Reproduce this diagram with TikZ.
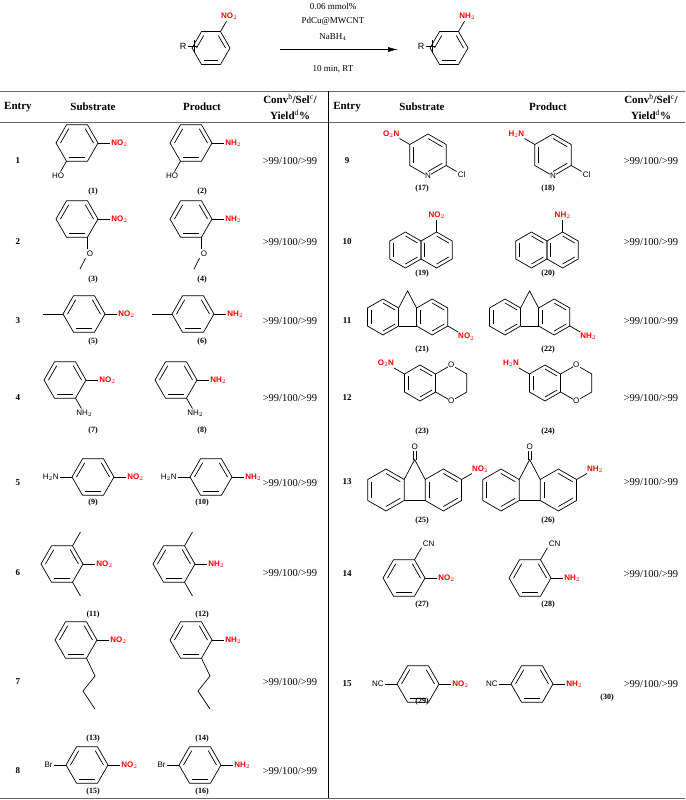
\documentclass[tikz,border=0pt]{standalone}
\usepackage{fontspec}
\setmainfont{Liberation Serif}
\setsansfont{Liberation Sans}
\usepackage{tikz}
\usetikzlibrary{calc,arrows.meta}

\def\rr{21}
\def\ri{16.5}
% ring: x y rotation
\newcommand{\ring}[3]{%
  \draw (#1,#2) +(#3+30:\rr) -- +(#3+90:\rr) -- +(#3+150:\rr) -- +(#3+210:\rr) -- +(#3+270:\rr) -- +(#3+330:\rr) -- cycle;
  \foreach \a in {30,150,270} {\draw (#1,#2) +(#3+\a:\ri) -- +(#3+\a+60:\ri);}}
\newcommand{\cyc}[2]{%
  \draw (#1,#2) +(30:\rr) -- +(90:\rr) -- +(150:\rr) -- +(210:\rr) -- +(270:\rr) -- +(330:\rr) -- cycle;}
% substituent: x y angle text style
\newcommand{\sub}[5]{%
  \pgfmathtruncatemacro\an{180-#3}%
  \draw (#1,#2) +(#3:\rr) -- +(#3:\rr+12) node[#5,anchor=\an] {#4};}
% fluorene skeleton: left ring x, y
\newcommand{\fluor}[2]{%
  \ring{#1}{#2}{0}\ring{#1+2.732*\rr}{#2}{0}
  \draw ($(#1,#2)+(-30:\rr)$) -- (#1+1.366*\rr,#2-1.45*\rr) -- ($(#1+2.732*\rr,#2)+(210:\rr)$);
  \draw ($(#1,#2)+(30:\rr)$) -- ($(#1+2.732*\rr,#2)+(150:\rr)$);}

\begin{document}
\begin{tikzpicture}[x=1pt,y=-1pt,line width=0.7pt,
    grp/.style={font=\sffamily\footnotesize,inner sep=1pt},
    nit/.style={grp,red,font=\sffamily\bfseries\footnotesize},
    cpd/.style={font=\bfseries\footnotesize},
    entry/.style={font=\bfseries\small},
    head/.style={font=\bfseries\fontsize{11}{12}\selectfont},
    conv/.style={font=\fontsize{10.5}{12}\selectfont}]
  \useasboundingbox (0,0) rectangle (685,800);

  % reaction scheme
  \begin{scope}
    \def\rr{19}\def\ri{14.5}
    \ring{211}{48}{30}
    \sub{211}{48}{-60}{NO$_2$}{nit}
    \node[grp,font=\sffamily\small] (R1) at (183,46) {R};
    \draw (R1.east) -- (198,46) (194,40) -- (194,53);
    \ring{449}{48}{30}
    \sub{449}{48}{-60}{NH$_2$}{nit}
    \node[grp,font=\sffamily\small] (R2) at (421,46) {R};
    \draw (R2.east) -- (436,46) (432,40) -- (432,53);
  \end{scope}
  \coordinate (a1) at (280,49.5);
  \coordinate (a2) at (398,49.5);
  \draw[-{Latex[length=10pt,width=5pt]}] (a1) -- (a2);
  \node[font=\small] at (333,6) {0.06 mmol\%};
  \node[font=\small] at (333,21) {PdCu@MWCNT};
  \node[font=\small] at (333,37) {NaBH$_4$};
  \node[font=\small] at (333,69) {10 min, RT};

  % table frame
  \draw[gray!80!black] (0,91) -- (685,91);
  \draw[gray!80!black] (0,122) -- (685,122);
  \draw (328,91) -- (328,798);
  \draw[gray!80!black] (0,798) -- (685,798);
  \foreach \xe/\xs/\xp/\xc in {18/93/202/290, 347/422/548/651} {
    \node[head] at (\xe,107) {Entry};
    \node[head] at (\xs,107) {Substrate};
    \node[head] at (\xp,107) {Product};
    \node[head] at (\xc,99) {Conv$^{\mathrm{b}}$/Sel$^{\mathrm{c}}$/};
    \node[head] at (\xc,115) {Yield$^{\mathrm{d}}$\%};
  }

  % entries and yields
  \foreach \n/\y in {1/161, 2/242, 3/321, 4/398, 5/483, 6/573, 7/682, 8/771} {
    \node[entry] at (18,\y) {\n};
    \node[conv] at (290,\y) {>99/100/>99};
  }
  \foreach \n/\y in {9/161, 10/242, 11/321, 12/398, 13/482, 14/574, 15/684} {
    \node[entry] at (347,\y) {\n};
    \node[conv] at (651,\y) {>99/100/>99};
  }

  % left column molecules
  \foreach \x/\g/\n in {77/NO$_2$/1, 191/NH$_2$/2} {
    \ring{\x}{143}{30}
    \sub{\x}{143}{0}{\g}{nit}
    \sub{\x}{143}{120}{HO}{grp}
  }
  \foreach \x/\g/\n in {77/NO$_2$/3, 191/NH$_2$/4} {
    \ring{\x}{219}{30}
    \sub{\x}{219}{0}{\g}{nit}
    \draw (\x,219) +(60:\rr) -- (\x+10.5,249);
    \node[grp] (o\n) at (\x+13,254) {O};
    \draw (o\n.south west) -- (\x+3,269);
  }
  \foreach \x/\g/\n in {84/NO$_2$/5, 193/NH$_2$/6} {
    \ring{\x}{314}{30}
    \sub{\x}{314}{0}{\g}{nit}
    \draw (\x,314) +(180:\rr) -- +(180:\rr+20);
  }
  \foreach \x/\g/\n in {65/NO$_2$/7, 176/NH$_2$/8} {
    \ring{\x}{380}{30}
    \sub{\x}{380}{0}{\g}{nit}
    \sub{\x}{380}{60}{NH$_2$}{grp}
  }
  \foreach \x/\g/\n in {93/NO$_2$/9, 211/NH$_2$/10} {
    \ring{\x}{477}{30}
    \sub{\x}{477}{0}{\g}{nit}
    \sub{\x}{477}{180}{H$_2$N}{grp}
  }
  \foreach \x/\g/\n in {62/NO$_2$/11, 174/NH$_2$/12} {
    \ring{\x}{564}{30}
    \sub{\x}{564}{0}{\g}{nit}
    \draw (\x,564) +(-60:\rr) -- +(-60:\rr+16);
    \draw (\x,564) +(60:\rr) -- +(60:\rr+16);
  }
  \foreach \x/\g/\n in {76/NO$_2$/13, 191/NH$_2$/14} {
    \ring{\x}{640}{30}
    \sub{\x}{640}{0}{\g}{nit}
    \draw (\x,640) +(60:\rr) -- (\x+19,676) -- (\x+7,691) -- (\x+19,709);
  }
  \foreach \x/\g/\n in {87/NO$_2$/15, 200/NH$_2$/16} {
    \ring{\x}{765}{30}
    \sub{\x}{765}{0}{\g}{nit}
    \sub{\x}{765}{180}{Br}{grp}
  }
  \foreach \x/\a/\b/\c/\d/\e/\f/\g/\h in {93/1/3/5/7/9/11/13/15, 202/2/4/6/8/10/12/14/16} {
    \node[cpd] at (\x,192) {(\a)};
    \node[cpd] at (\x,280) {(\b)};
    \node[cpd] at (\x,342) {(\c)};
    \node[cpd] at (\x,431) {(\d)};
    \node[cpd] at (\x,503) {(\e)};
    \node[cpd] at (\x,615) {(\f)};
    \node[cpd] at (\x,739) {(\g)};
    \node[cpd] at (\x,792) {(\h)};
  }

  % right column molecules
  \foreach \x/\g/\h in {428/NO$_2$/O$_2$N, 553/NH$_2$/H$_2$N} {
    \ring{\x}{155}{0}
    \sub{\x}{155}{210}{\h}{nit}
    \sub{\x}{155}{30}{Cl}{grp}
    \node[grp,fill=white,inner sep=0.4pt] at ($(\x,155)+(90:\rr)$) {N};
  }
  \begin{scope}
    \def\rr{18}\def\ri{14}
    \foreach \x/\g/\h in {421/NO$_2$/O$_2$N, 547/NH$_2$/H$_2$N} {
      \ring{\x-15.6}{250}{0}
      \ring{\x+15.6}{250}{0}
      \sub{\x+15.6}{250}{270}{\g}{nit}
    }
    \foreach \x/\g in {383/NO$_2$, 505/NH$_2$} {
      \fluor{\x}{317}
      \sub{\x+49.2}{317}{30}{\g}{nit}
    }
    \foreach \x/\g/\h in {420/NO$_2$/O$_2$N, 545/NH$_2$/H$_2$N} {
      \ring{\x}{383}{0}
      \cyc{\x+31.2}{383}
      \node[grp,fill=white,inner sep=0.4pt] at ($(\x+31.2,383)+(270:\rr)$) {O};
      \node[grp,fill=white,inner sep=0.4pt] at ($(\x+31.2,383)+(90:\rr)$) {O};
      \sub{\x}{383}{210}{\h}{nit}
    }
  \end{scope}
  \begin{scope}
    \def\rr{21}\def\ri{16.5}
    \foreach \x/\g in {386/NO$_2$, 501/NH$_2$} {
      \fluor{\x}{490}
      \draw (\x+27.2,460) -- (\x+27.2,451);
      \draw (\x+30.2,460) -- (\x+30.2,451);
      \node[grp,anchor=south] at (\x+28.7,451) {O};
      \sub{\x+57.4}{490}{-30}{\g}{nit}
    }
  \end{scope}
  \foreach \x/\g in {404/NO$_2$, 530/NH$_2$} {
    \ring{\x}{578}{30}
    \draw (\x,578) +(-60:\rr) -- +(-60:\rr+14) node[grp,anchor=south west] {CN};
    \sub{\x}{578}{0}{\g}{nit}
  }
  \foreach \x/\g in {418/NO$_2$, 532/NH$_2$} {
    \ring{\x}{684}{30}
    \sub{\x}{684}{0}{\g}{nit}
    \sub{\x}{684}{180}{NC}{grp}
  }
  \foreach \x/\a/\b/\c/\d/\e/\f in {422/17/19/21/23/25/27, 548/18/20/22/24/26/28} {
    \node[cpd] at (\x,189) {(\a)};
    \node[cpd] at (\x,274) {(\b)};
    \node[cpd] at (\x,350) {(\c)};
    \node[cpd] at (\x,432) {(\d)};
    \node[cpd] at (\x,521) {(\e)};
    \node[cpd] at (\x,605) {(\f)};
  }
  \node[cpd] at (422,702) {(29)};
  \node[cpd] at (607,698) {(30)};
\end{tikzpicture}
\end{document}
